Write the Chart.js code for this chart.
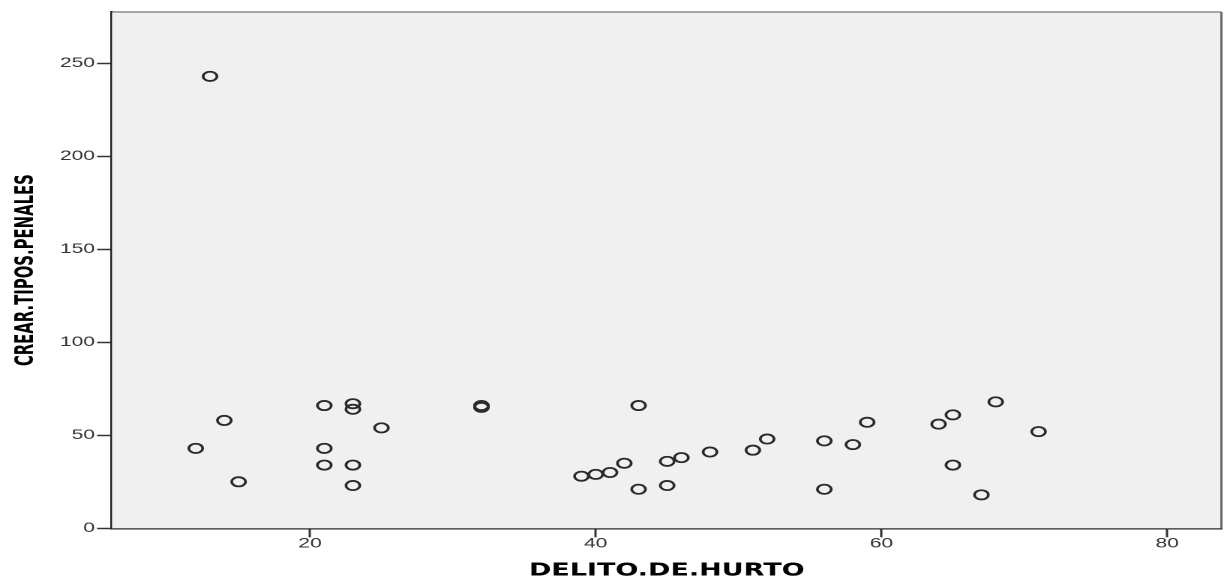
<!DOCTYPE html>
<html>
<head>
<meta charset="utf-8">
<script src="https://cdn.jsdelivr.net/npm/chart.js@4/dist/chart.umd.min.js"></script>
<style>
  html, body { margin:0; padding:0; background:#fff; }
</style>
</head>
<body>
<!-- drawn at 816 px wide and shown 1.5x wider, like the stretched original -->
<canvas id="scatter" width="816" height="580" style="width:1224px;height:580px;"></canvas>
<script>
// ==========================================
// Datos
// ==========================================

const hurto = [12, 14, 15, 13, 21, 21, 21, 23, 23, 23, 23, 25, 32, 32,
               39, 40, 41, 42, 43, 43, 45, 45, 46, 48, 51, 52, 56, 56,
               58, 59, 64, 65, 65, 67, 68, 71];
const tiposPenales = [43, 58, 25, 243, 66, 43, 34, 67, 64, 34, 23, 54, 65, 66,
                      28, 29, 30, 35, 66, 21, 36, 23, 38, 41, 42, 48, 47, 21,
                      45, 57, 56, 61, 34, 18, 68, 52];

const xTicks = [20, 40, 60, 80];
const yTicks = [0, 50, 100, 150, 200, 250];

const xTitle = "DELITO.DE.HURTO";
const yTitle = "CREAR.TIPOS.PENALES";


// ==========================================
// Fondo y marco del área de trazado
// ==========================================

const plotFrame = {
    id: "plotFrame",
    beforeDatasetsDraw(chart){
        const a = chart.chartArea;
        const ctx = chart.ctx;
        ctx.save();
        ctx.fillStyle = "#f0f0f0";
        ctx.fillRect(a.left, a.top, a.right - a.left, a.bottom - a.top);
        ctx.restore();
    },
    afterDraw(chart){
        const a = chart.chartArea;
        const ctx = chart.ctx;
        ctx.save();
        ctx.lineWidth = 1.5;
        ctx.strokeStyle = "#8a8a8a";
        ctx.beginPath();
        ctx.moveTo(a.left, a.top);
        ctx.lineTo(a.right, a.top);
        ctx.stroke();
        ctx.strokeStyle = "#666";
        ctx.beginPath();
        ctx.moveTo(a.right, a.top);
        ctx.lineTo(a.right, a.bottom);
        ctx.stroke();
        ctx.restore();
    }
};


// ==========================================
// Gráfico de dispersión
// ==========================================

const tickFont = { family: "'Liberation Sans', Arial, sans-serif", size: 14 };

new Chart(document.getElementById("scatter"), {

    type: "scatter",

    data: {
        datasets: [{
            data: hurto.map((x, i) => ({ x: x, y: tiposPenales[i] })),
            pointStyle: "circle",
            pointRadius: 4.6,
            borderWidth: 1.8,
            borderColor: "#2a2a2a",
            backgroundColor: "rgba(0,0,0,0)"
        }]
    },

    options: {
        responsive: false,
        devicePixelRatio: 2,
        animation: false,
        events: [],
        layout: { autoPadding: false, padding: { top: 12, right: 1.7, bottom: 0, left: 0 } },
        plugins: {
            legend: { display: false },
            tooltip: { enabled: false }
        },
        scales: {
            x: {
                type: "linear",
                min: 6.14,
                max: 83.8,
                afterBuildTicks: s => { s.ticks = xTicks.map(v => ({ value: v })); },
                afterFit: s => { s.height = 51.7; s.paddingLeft = 0; s.paddingRight = 0; },
                ticks: { font: tickFont, color: "#333", padding: -2, maxRotation: 0 },
                grid: { drawOnChartArea: false, tickLength: 9, tickColor: "#333", tickWidth: 1.5 },
                border: { display: true, color: "#222", width: 2 },
                title: {
                    display: true,
                    text: xTitle,
                    color: "#000",
                    font: { family: "'DejaVu Sans', sans-serif", size: 18, weight: "bold", lineHeight: 1 },
                    padding: { top: 0, bottom: 0 }
                }
            },
            y: {
                type: "linear",
                min: 0,
                max: 277.6,
                afterBuildTicks: s => { s.ticks = yTicks.map(v => ({ value: v })); },
                afterFit: s => { s.width = 74.7; },
                ticks: { font: tickFont, color: "#333", padding: 1.4 },
                grid: { drawOnChartArea: false, tickLength: 10, tickColor: "#333", tickWidth: 1.5 },
                border: { display: true, color: "#222", width: 2 },
                title: {
                    display: true,
                    text: yTitle,
                    color: "#000",
                    font: { family: "'Liberation Sans Narrow', 'DejaVu Sans Condensed', sans-serif", size: 16.5, weight: "bold", lineHeight: 1 },
                    padding: { top: 9.5, bottom: 0 }
                }
            }
        }
    },

    plugins: [plotFrame]

});
</script>
</body>
</html>
